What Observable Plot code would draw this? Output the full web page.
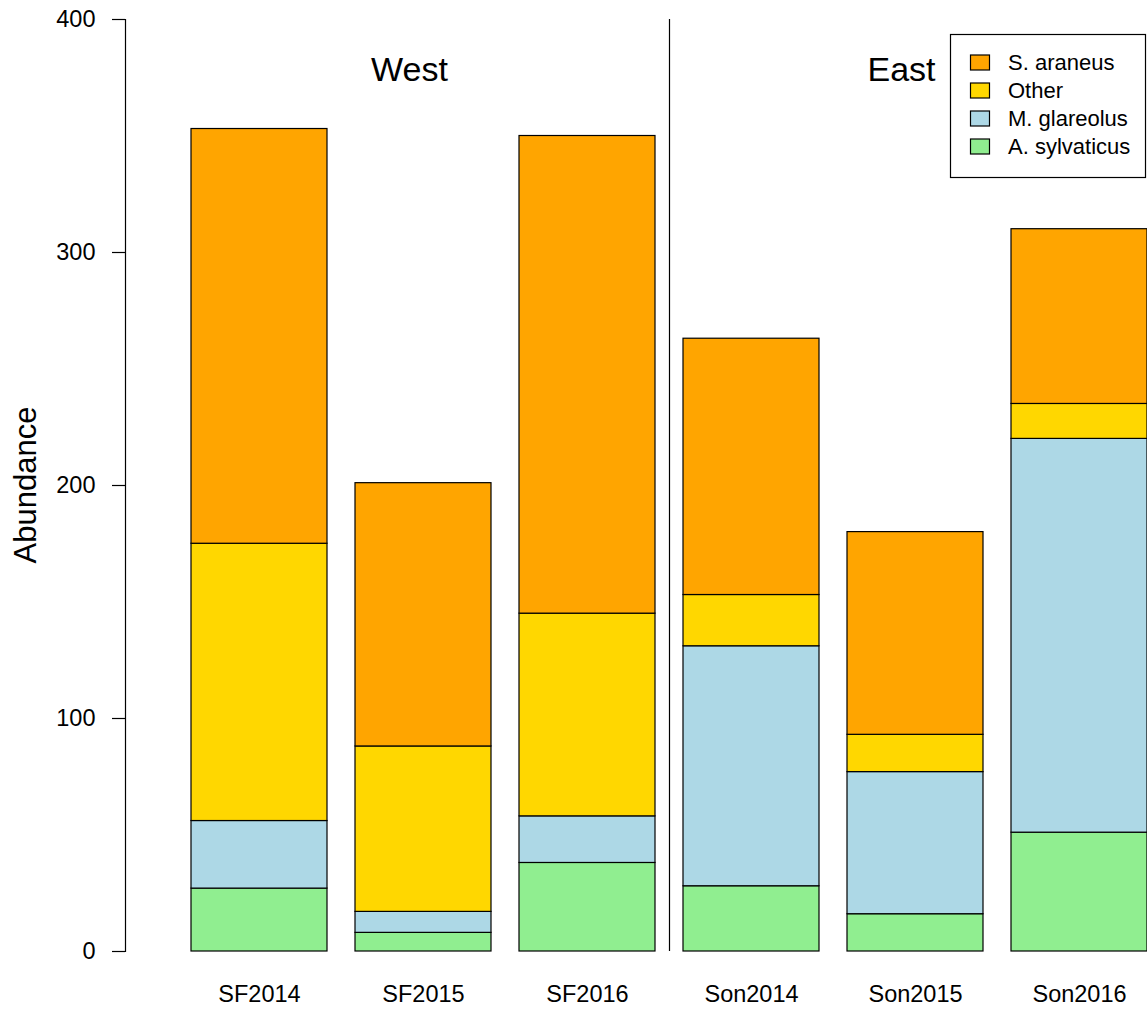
<!DOCTYPE html>
<html>
<head>
<meta charset="utf-8">
<script src="https://cdn.jsdelivr.net/npm/d3@7"></script>
<script src="https://cdn.jsdelivr.net/npm/@observablehq/plot@0.6"></script>
<style>
  body { margin: 0; background: #fff; }
</style>
</head>
<body>
<div id="chart"></div>
<script>
// Small-mammal abundance per site and year, stacked by species
const sites = ["SF2014", "SF2015", "SF2016", "Son2014", "Son2015", "Son2016"];
const species = ["A. sylvaticus", "M. glareolus", "Other", "S. araneus"]; // bottom to top
const aSylvaticus = [27, 8, 38, 28, 16, 51];
const mGlareolus = [29, 9, 20, 103, 61, 169];
const other = [119, 71, 87, 22, 16, 15];
const sAraneus = [178, 113, 205, 110, 87, 75];
const speciesColors = ["#90EE90", "#ADD8E6", "#FFD700", "#FFA500"];
const yTicks = [0, 100, 200, 300, 400];
const regionLabels = ["West", "East"];
const regionSites = ["SF2015", "Son2015"];
const yLabel = "Abundance";

const seriesBySpecies = [aSylvaticus, mGlareolus, other, sAraneus];
const rows = [];
species.forEach((sp, k) => {
  sites.forEach((site, i) => rows.push({site, species: sp, count: seriesBySpecies[k][i]}));
});
const regionRows = regionLabels.map((label, i) => ({label, site: regionSites[i]}));

const font = "'Liberation Sans', Arial, Helvetica, sans-serif";
const W = 1147, H = 1012;
const barsLeft = 191;
const padInner = 28 / 164;
const step = (W - barsLeft) / (sites.length - padInner);

const chart = Plot.plot({
  width: W,
  height: H,
  marginTop: 19,
  marginBottom: 61,
  marginLeft: 125,
  marginRight: 0,
  style: {fontFamily: font, fontSize: "23.5px", color: "#000", background: "#fff"},
  x: {domain: sites, range: [barsLeft, W], paddingInner: padInner, paddingOuter: 0, round: false},
  y: {domain: [0, 400]},
  color: {domain: species, range: speciesColors},
  marks: [
    Plot.barY(rows, {x: "site", y: "count", fill: "species", order: species, stroke: "#000", strokeWidth: 1.2}),
    Plot.frame({anchor: "left", stroke: "#000", strokeWidth: 1.2}),
    Plot.axisY({ticks: yTicks, tickSize: 13, tickPadding: 17, label: null, strokeWidth: 1.2}),
    Plot.axisX({tickSize: 0, tickPadding: 34, label: null}),
    // divider between the two regions
    Plot.ruleX([sites[3]], {dx: -step / 2, stroke: "#000", strokeWidth: 1.2}),
    Plot.text(regionRows, {x: "site", text: "label", frameAnchor: "top", dy: 50.5, lineAnchor: "middle", dx: -14, fontSize: 34})
  ]
});

const svg = d3.select(chart);

// y-axis title, centred on the plotting region
svg.append("text")
  .attr("transform", `translate(25,${(19 + (H - 61)) / 2}) rotate(-90)`)
  .attr("text-anchor", "middle")
  .attr("dy", "0.35em")
  .attr("font-family", font)
  .attr("font-size", 31)
  .attr("fill", "#000")
  .text(yLabel);

// Legend box (top to bottom: reverse stacking order)
const legend = svg.append("g").attr("font-family", font).attr("font-size", 22);
legend.append("rect")
  .attr("x", 950.5).attr("y", 34.5).attr("width", 195).attr("height", 143)
  .attr("fill", "#fff").attr("stroke", "#000").attr("stroke-width", 1.2);
const legendOrder = species.slice().reverse();
legendOrder.forEach((sp, i) => {
  const cy = 62.5 + i * 28;
  legend.append("rect")
    .attr("x", 970.5).attr("y", cy - 7.5).attr("width", 19).attr("height", 15)
    .attr("fill", speciesColors[species.indexOf(sp)]).attr("stroke", "#000").attr("stroke-width", 1.2);
  legend.append("text")
    .attr("x", 1008).attr("y", cy).attr("dy", "0.35em")
    .attr("text-anchor", "start")
    .attr("fill", "#000").text(sp);
});

document.getElementById("chart").appendChild(chart);
</script>
</body>
</html>
